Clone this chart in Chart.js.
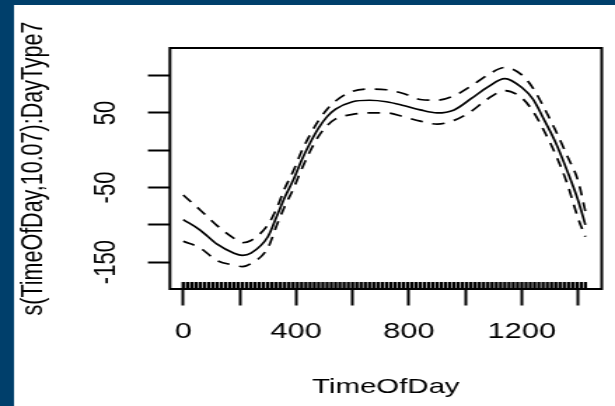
<!DOCTYPE html>
<html>
<head>
<meta charset="utf-8">
<script src="https://cdn.jsdelivr.net/npm/chart.js@4/dist/chart.umd.min.js"></script>
<style>
  html, body { margin: 0; padding: 0; background: #ffffff; overflow: hidden; }
  #plot { display: block; }
</style>
</head>
<body>
<canvas id="plot" width="439" height="406" style="width:615px;height:406px"></canvas>
<script>
// Smooth term s(TimeOfDay) for DayType7: fitted curve with upper/lower 2-SE bands
const timeOfDay = [0, 60, 120, 180, 210, 240, 300, 330, 360, 390, 420, 450, 480, 510, 540, 600, 660,
                   720, 780, 840, 900, 960, 1020, 1080, 1140, 1200, 1240, 1280, 1320, 1360, 1400, 1425];
const fitted = [-93, -107, -126, -138, -141, -138, -116, -90, -63, -40, -13, 10, 30, 45, 55, 65, 67,
                65, 60, 54, 50, 54, 69, 85, 96, 84, 68, 40, 10, -27, -68, -100];
const upperBand = [-60, -80, -101, -118, -124, -121, -100, -79, -51, -28, -1, 21, 40, 55, 66, 79, 82,
                   81, 76, 68, 67, 73, 86, 101, 111, 101, 83, 56, 26, -7, -42, -82];
const lowerBand = [-122, -131, -148, -154, -156, -152, -131, -102, -75, -52, -25, -1, 19, 33, 42, 48, 50,
                   50, 45, 39, 35, 40, 52, 69, 80, 70, 52, 25, -6, -44, -92, -116];

// Observation times shown as a rug along the bottom of the panel
const rugTimes = [0, 15, 30, 45, 60, 75, 90, 105, 120, 135, 150, 165, 180, 195, 210, 225,
  240, 255, 270, 285, 300, 315, 330, 345, 360, 375, 390, 405, 420, 435, 450, 465,
  480, 495, 510, 525, 540, 555, 570, 585, 600, 615, 630, 645, 660, 675, 690, 705,
  720, 735, 750, 765, 780, 795, 810, 825, 840, 855, 870, 885, 900, 915, 930, 945,
  960, 975, 990, 1005, 1020, 1035, 1050, 1065, 1080, 1095, 1110, 1125, 1140, 1155, 1170, 1185,
  1200, 1215, 1230, 1245, 1260, 1275, 1290, 1305, 1320, 1335, 1350, 1365, 1380, 1395, 1410, 1425];

// Tick values that carry a printed label
const xLabelledTicks = [0, 400, 800, 1200];
const yLabelledTicks = [50, -50, -150];

const FONT = "'Liberation Sans', Arial, sans-serif";

const pts = vals => timeOfDay.map((t, i) => ({ x: t, y: vals[i] }));

const panelPlugin = {
  id: 'panel',
  beforeDraw(chart) {
    const { ctx, width, height } = chart;
    ctx.save();
    ctx.fillStyle = '#ffffff';
    ctx.fillRect(0, 0, width, height);
    ctx.fillStyle = '#003f6b';
    ctx.fillRect(0, 0, width, 5);
    ctx.fillRect(0, 0, 10, height);
    ctx.restore();
  },
  afterDatasetsDraw(chart) {
    const { ctx, chartArea: a, scales } = chart;
    ctx.save();
    ctx.strokeStyle = '#000';
    // rug
    ctx.lineWidth = 2.4;
    ctx.beginPath();
    rugTimes.forEach(t => {
      const x = scales.x.getPixelForValue(t);
      ctx.moveTo(x, a.bottom);
      ctx.lineTo(x, a.bottom - 7);
    });
    ctx.stroke();
    // frame
    ctx.lineWidth = 2;
    ctx.strokeRect(a.left, a.top, a.right - a.left, a.bottom - a.top);
    ctx.restore();
  }
};

const lineStyle = (dash) => ({
  borderColor: '#000',
  borderWidth: 1.7,
  borderDash: dash,
  pointRadius: 0,
  fill: false,
  cubicInterpolationMode: 'monotone'
});

new Chart(document.getElementById('plot'), {
  type: 'line',
  data: {
    datasets: [
      { label: 'fit', data: pts(fitted), ...lineStyle([]) },
      { label: 'upper', data: pts(upperBand), ...lineStyle([9, 7]) },
      { label: 'lower', data: pts(lowerBand), ...lineStyle([9, 7]) }
    ]
  },
  options: {
    responsive: false,
    devicePixelRatio: 1,
    animation: false,
    layout: { padding: { top: 48, right: 9.5, left: 0, bottom: 0 } },
    plugins: { legend: { display: false }, tooltip: { enabled: false } },
    scales: {
      x: {
        type: 'linear',
        min: -47,
        max: 1483,
        border: { display: false },
        grid: { drawOnChartArea: false, drawTicks: true, tickLength: 16.5, tickWidth: 2, tickColor: '#000' },
        ticks: {
          stepSize: 200,
          includeBounds: false,
          autoSkip: false,
          minRotation: 0,
          maxRotation: 0,
          padding: 15.5,
          color: '#000',
          font: { family: FONT, size: 22, lineHeight: 1 },
          callback: v => (xLabelledTicks.includes(v) ? String(v) : '')
        },
        title: {
          display: true,
          text: 'TimeOfDay',
          color: '#000',
          font: { family: FONT, size: 21, lineHeight: 1 },
          padding: { top: 0, bottom: 8 }
        },
        afterFit: s => { s.height = 117; }
      },
      y: {
        type: 'linear',
        min: -186,
        max: 137,
        border: { display: false },
        grid: { drawOnChartArea: false, drawTicks: true, tickLength: 15.7, tickWidth: 2, tickColor: '#000' },
        ticks: {
          stepSize: 50,
          includeBounds: false,
          autoSkip: false,
          minRotation: 90,
          maxRotation: 90,
          crossAlign: 'center',
          padding: 7.2,
          color: '#000',
          font: { family: FONT, size: 22, lineHeight: 1 },
          callback: v => (yLabelledTicks.includes(v) ? String(v) : '')
        },
        title: {
          display: true,
          text: 's(TimeOfDay,10.07):DayType7',
          color: '#000',
          font: { family: FONT, size: 21.5, lineHeight: 1 },
          padding: { top: 12.9, bottom: 0 }
        },
        afterFit: s => { s.width = 121.3; }
      }
    }
  },
  plugins: [panelPlugin]
});
</script>
</body>
</html>
